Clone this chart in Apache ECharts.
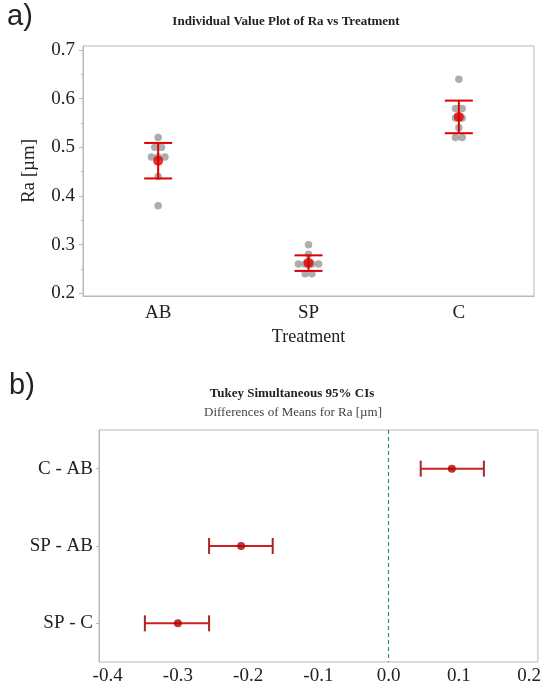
<!DOCTYPE html>
<html>
<head>
<meta charset="utf-8">
<script src="https://cdn.jsdelivr.net/npm/echarts@6/dist/echarts.min.js"></script>
<style>
html,body{margin:0;padding:0;background:#fff;}
#chart{width:544px;height:686px;}
</style>
</head>
<body>
<div id="chart"></div>
<script>
// ---- data ----
const treatments = ['AB', 'SP', 'C'];
const raAB = [0.52, 0.50, 0.50, 0.48, 0.48, 0.48, 0.44, 0.38];
const raSP = [0.30, 0.28, 0.26, 0.26, 0.26, 0.26, 0.24, 0.24];
const raC  = [0.64, 0.58, 0.58, 0.56, 0.56, 0.54, 0.52, 0.52];
const ciLow  = [0.436, 0.246, 0.529];
const ciHigh = [0.509, 0.278, 0.596];
const yTicks = [0.2, 0.3, 0.4, 0.5, 0.6, 0.7];
const yMinorTicks = [0.25, 0.35, 0.45, 0.55, 0.65];

const comparisons = ['C - AB', 'SP - AB', 'SP - C'];
const diffMean = [0.09, -0.21, -0.30];
const diffLow  = [0.0457, -0.2556, -0.347];
const diffHigh = [0.1356, -0.165, -0.2556];
const xTicks = [-0.4, -0.3, -0.2, -0.1, 0.0, 0.1, 0.2];
const xMinorTicks = [-0.35, -0.25, -0.15, -0.05, 0.05, 0.15];

// ---- derived ----
const groups = [raAB, raSP, raC];
const meanRa = groups.map(g => g.reduce((a, b) => a + b, 0) / g.length);
const DOT_STEP = 6.7;
const pointData = [];
groups.forEach((g, gi) => {
  const counts = {};
  g.forEach(v => { counts[v] = (counts[v] || 0) + 1; });
  const seen = {};
  g.forEach(v => {
    const n = counts[v];
    const k = seen[v] || 0;
    seen[v] = k + 1;
    pointData.push({ value: [gi, v], symbolOffset: [(k - (n - 1) / 2) * DOT_STEP, 0] });
  });
});

const serif = 'Liberation Serif';
const frame = '#b8b8b8';

const chart = echarts.init(document.getElementById('chart'), null, { renderer: 'canvas' });
chart.setOption({
  animation: false,
  backgroundColor: '#fff',
  graphic: [
    { type: 'text', left: 7, top: 2, style: { text: 'a)', font: '29px "Liberation Sans"', fill: '#222' } },
    { type: 'text', x: 286, y: 22, style: { text: 'Individual Value Plot of Ra vs Treatment', font: 'bold 13px "Liberation Serif"', fill: '#222', align: 'center', verticalAlign: 'middle' } },
    { type: 'text', left: 9, top: 371, style: { text: 'b)', font: '29px "Liberation Sans"', fill: '#222' } },
    { type: 'text', x: 292, y: 394, style: { text: 'Tukey Simultaneous 95% CIs', font: 'bold 13px "Liberation Serif"', fill: '#222', align: 'center', verticalAlign: 'middle' } },
    { type: 'text', x: 293, y: 413, style: { text: 'Differences of Means for Ra [µm]', font: '13px "Liberation Serif"', fill: '#444', align: 'center', verticalAlign: 'middle' } }
  ],
  grid: [
    { left: 83, top: 46, width: 451, height: 250, show: true, borderColor: frame, borderWidth: 1, backgroundColor: '#fff' },
    { left: 99, top: 430, width: 441, height: 233, show: true, borderColor: frame, borderWidth: 1, backgroundColor: '#fff' }
  ],
  xAxis: [
    {
      gridIndex: 0, type: 'category', data: treatments, boundaryGap: true,
      name: 'Treatment', nameLocation: 'middle', nameGap: 32,
      nameTextStyle: { fontFamily: serif, fontSize: 18, color: '#222' },
      axisLine: { onZero: false, lineStyle: { color: frame } },
      axisTick: { alignWithLabel: true, length: 4, lineStyle: { color: frame } },
      axisLabel: { fontFamily: serif, fontSize: 19, color: '#222', margin: 8 },
      splitLine: { show: false }
    },
    {
      gridIndex: 1, type: 'value', min: -0.4123, max: 0.2125,
      axisLine: { onZero: false, lineStyle: { color: frame } },
      axisTick: { customValues: xTicks, length: 4, lineStyle: { color: frame } },
      axisLabel: { customValues: xTicks, fontFamily: serif, fontSize: 19, color: '#222', margin: 5, formatter: v => v.toFixed(1) },
      splitLine: { show: false }
    },
    {
      gridIndex: 1, type: 'value', min: -0.4123, max: 0.2125, position: 'bottom',
      axisLine: { show: false, onZero: false },
      axisTick: { customValues: xMinorTicks, length: 2, lineStyle: { color: '#d0d0d0' } },
      axisLabel: { show: false },
      splitLine: { show: false }
    }
  ],
  yAxis: [
    {
      gridIndex: 0, type: 'value', min: 0.19445, max: 0.70822,
      name: 'Ra [µm]', nameLocation: 'middle', nameGap: 44, nameRotate: 90,
      nameTextStyle: { fontFamily: serif, fontSize: 19, color: '#222' },
      axisLine: { show: true, onZero: false, lineStyle: { color: frame } },
      axisTick: { show: true, customValues: yTicks, length: 4, lineStyle: { color: frame } },
      axisLabel: { customValues: yTicks, fontFamily: serif, fontSize: 19, color: '#222', margin: 8, formatter: v => v.toFixed(1) },
      splitLine: { show: false }
    },
    {
      gridIndex: 0, type: 'value', min: 0.19445, max: 0.70822, position: 'left',
      axisLine: { show: false, onZero: false },
      axisTick: { show: true, customValues: yMinorTicks, length: 2, lineStyle: { color: frame } },
      axisLabel: { show: false },
      splitLine: { show: false }
    },
    {
      gridIndex: 1, type: 'category', data: comparisons, inverse: true, boundaryGap: true, position: 'left',
      axisLine: { show: true, onZero: false, lineStyle: { color: frame } },
      axisTick: { show: true, alignWithLabel: true, length: 3, lineStyle: { color: frame } },
      axisLabel: { fontFamily: serif, fontSize: 19, color: '#222', margin: 6 },
      splitLine: { show: false }
    }
  ],
  series: [
    {
      type: 'scatter', xAxisIndex: 0, yAxisIndex: 0, data: pointData,
      symbol: 'circle', symbolSize: 7.5, itemStyle: { color: '#999999' }, z: 2
    },
    {
      type: 'custom', xAxisIndex: 0, yAxisIndex: 0, z: 3,
      encode: { x: 0, y: [1, 2] },
      data: treatments.map((t, i) => [i, ciLow[i], ciHigh[i]]),
      renderItem: function (params, api) {
        const lo = api.coord([api.value(0), api.value(1)]);
        const hi = api.coord([api.value(0), api.value(2)]);
        const hw = 14;
        const st = { stroke: '#dd0000', lineWidth: 2 };
        return {
          type: 'group', children: [
            { type: 'line', shape: { x1: lo[0], y1: lo[1], x2: hi[0], y2: hi[1] }, style: st },
            { type: 'line', shape: { x1: lo[0] - hw, y1: lo[1], x2: lo[0] + hw, y2: lo[1] }, style: st },
            { type: 'line', shape: { x1: hi[0] - hw, y1: hi[1], x2: hi[0] + hw, y2: hi[1] }, style: st }
          ]
        };
      }
    },
    {
      type: 'scatter', xAxisIndex: 0, yAxisIndex: 0, z: 4,
      data: meanRa.map((m, i) => [i, m]),
      symbol: 'circle', symbolSize: 10, itemStyle: { color: '#dd0000' }
    },
    {
      type: 'custom', xAxisIndex: 1, yAxisIndex: 2, z: 3,
      encode: { y: 0, x: [1, 2] },
      data: comparisons.map((c, i) => [i, diffLow[i], diffHigh[i]]),
      renderItem: function (params, api) {
        const lo = api.coord([api.value(1), api.value(0)]);
        const hi = api.coord([api.value(2), api.value(0)]);
        const hh = 8;
        const cap = { stroke: '#a82828', lineWidth: 2 };
        return {
          type: 'group', children: [
            { type: 'line', shape: { x1: lo[0], y1: lo[1], x2: hi[0], y2: hi[1] }, style: { stroke: '#cc2020', lineWidth: 2 } },
            { type: 'line', shape: { x1: lo[0], y1: lo[1] - hh, x2: lo[0], y2: lo[1] + hh }, style: cap },
            { type: 'line', shape: { x1: hi[0], y1: hi[1] - hh, x2: hi[0], y2: hi[1] + hh }, style: cap }
          ]
        };
      }
    },
    {
      type: 'scatter', xAxisIndex: 1, yAxisIndex: 2, z: 4,
      data: comparisons.map((c, i) => [diffMean[i], i]),
      symbol: 'circle', symbolSize: 8, itemStyle: { color: '#b00000' },
      markLine: {
        silent: true, symbol: ['none', 'none'], label: { show: false },
        lineStyle: { color: '#2f9a55', type: [4, 3], width: 1.2 },
        data: [{ xAxis: 0 }]
      }
    }
  ]
});
</script>
</body>
</html>
